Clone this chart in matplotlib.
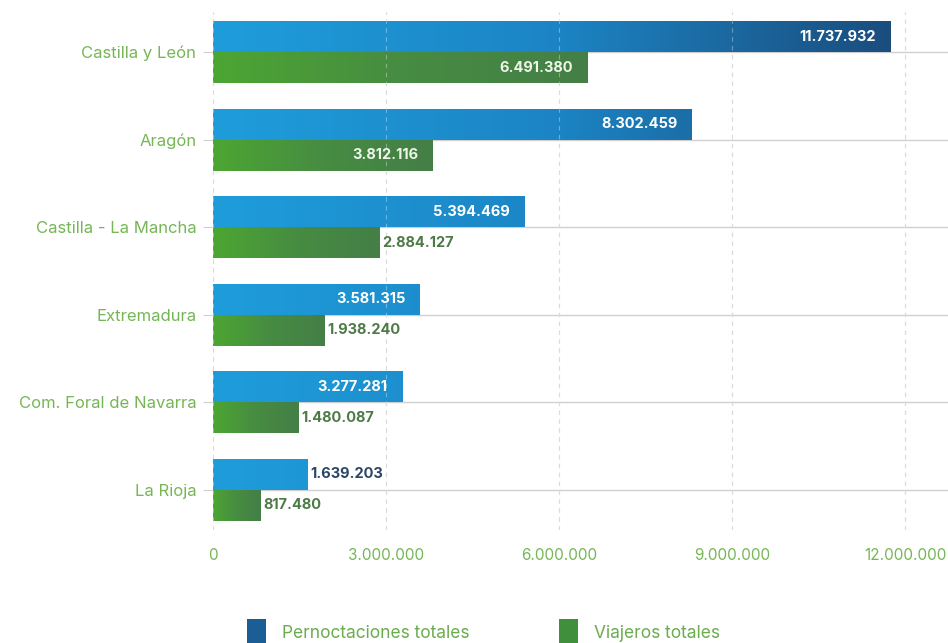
import matplotlib.pyplot as plt
import numpy as np
from matplotlib.colors import LinearSegmentedColormap
from matplotlib.patches import Patch

plt.rcParams['font.family'] = ['Inter', 'DejaVu Sans']

regions = ["Castilla y León", "Aragón", "Castilla - La Mancha", "Extremadura",
           "Com. Foral de Navarra", "La Rioja"]
pernoctaciones = [11737932, 8302459, 5394469, 3581315, 3277281, 1639203]
viajeros = [6491380, 3812116, 2884127, 1938240, 1480087, 817480]
xticks = [0, 3000000, 6000000, 9000000, 12000000]

blue_map = LinearSegmentedColormap.from_list("blue", ["#1f9ddb", "#1c84c4", "#1a4b7a"])
green_map = LinearSegmentedColormap.from_list("green", ["#4ca632", "#478c42", "#447f47"])
label_green = "#76b656"


def fmt(v):
    return f"{v:,}".replace(",", ".")


fig = plt.figure(figsize=(9.48, 6.43), dpi=100)
ax = fig.add_axes([0.2247, 0.176, 0.7753, 0.805])

y = np.arange(len(regions))
h = 0.355
xmax = 12740000
blue_bars = ax.barh(y - h / 2, pernoctaciones, height=h, color="none", zorder=2)
green_bars = ax.barh(y + h / 2, viajeros, height=h, color="none", zorder=2)

# blue fades across the whole axis, green fades along each bar
grad = np.linspace(0, 1, 256).reshape(1, -1)
for bar in blue_bars:
    x0, y0, w, hh = bar.get_x(), bar.get_y(), bar.get_width(), bar.get_height()
    im = ax.imshow(grad, cmap=blue_map, aspect="auto", extent=[0, 12000000, y0 + hh, y0],
                   zorder=2, interpolation="bicubic")
    im.set_clip_path(bar)
for bar in green_bars:
    x0, y0, w, hh = bar.get_x(), bar.get_y(), bar.get_width(), bar.get_height()
    im = ax.imshow(grad, cmap=green_map, aspect="auto", extent=[0, w, y0 + hh, y0],
                   zorder=2, interpolation="bicubic")
    im.set_clip_path(bar)

# value labels: inside the bar when it is long enough, otherwise just after it
for bars, vals, out_color, in_color in [(blue_bars, pernoctaciones, "#2b4566", "white"),
                                        (green_bars, viajeros, "#4d7a47", "#eef5e8")]:
    for bar, v in zip(bars, vals):
        yc = bar.get_y() + bar.get_height() / 2
        if v > 3000000:
            ax.text(v - 250000, yc, fmt(v), ha="right", va="center", color=in_color,
                    fontsize=10.5, fontweight="bold", zorder=4)
        else:
            ax.text(v + 50000, yc, fmt(v), ha="left", va="center", color=out_color,
                    fontsize=10.5, fontweight="bold", zorder=4)

ax.set_xlim(0, xmax)
ax.set_ylim(len(regions) - 0.543, -0.457)
ax.set_xticks(xticks)
ax.set_xticklabels([fmt(t) for t in xticks])
ax.set_yticks(y)
ax.set_yticklabels(regions)
ax.tick_params(axis="x", length=0, pad=13, labelsize=11, labelcolor=label_green)
ax.tick_params(axis="y", length=7, color="#d0d0d0", pad=5, labelsize=12,
               labelcolor=label_green)
ax.yaxis.grid(True, linestyle="-", color="#d0d0d0", linewidth=1.0, zorder=1)
for s in ax.spines.values():
    s.set_visible(False)

# dashed vertical lines sit on top of the bars, faint over the colour
for t in xticks:
    ax.axvline(t, linestyle=(0, (4, 4)), color="#c8c8c8", linewidth=0.8, zorder=0.5)
    ax.axvline(t, linestyle=(0, (4, 4)), color="white", alpha=0.35, linewidth=0.8, zorder=3)

handles = [Patch(facecolor="#1b5e95", label="Pernoctaciones totales"),
           Patch(facecolor="#3f8f3c", label="Viajeros totales")]
leg = fig.legend(handles=handles, loc="center", bbox_to_anchor=(0.51, 0.017), ncol=2,
                 frameon=False, fontsize=12.5, handlelength=1.1, handleheight=1.9,
                 columnspacing=5.2, handletextpad=0.9)
for t in leg.get_texts():
    t.set_color("#6aac4e")

fig.savefig("out.png", dpi=100)
